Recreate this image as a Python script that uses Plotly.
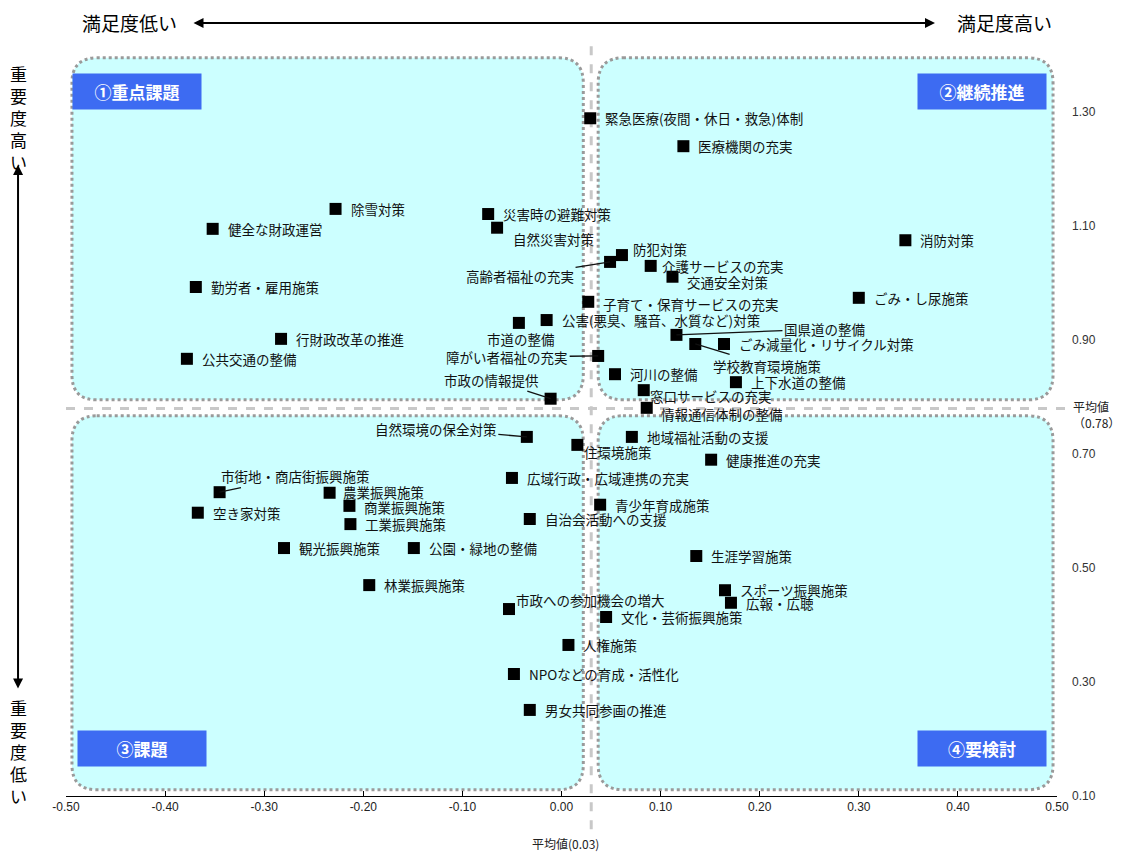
import plotly.graph_objects as go

# 施策名 / 満足度(x) / 重要度(y)
names = [
    "緊急医療(夜間・休日・救急)体制", "医療機関の充実", "除雪対策", "健全な財政運営",
    "災害時の避難対策", "自然災害対策", "防犯対策", "高齢者福祉の充実",
    "介護サービスの充実", "交通安全対策", "消防対策", "勤労者・雇用施策",
    "子育て・保育サービスの充実", "ごみ・し尿施策", "公害(悪臭、騒音、水質など)対策", "市道の整備",
    "行財政改革の推進", "国県道の整備", "学校教育環境施策", "ごみ減量化・リサイクル対策",
    "公共交通の整備", "障がい者福祉の充実", "河川の整備", "上下水道の整備",
    "窓口サービスの充実", "市政の情報提供", "情報通信体制の整備", "自然環境の保全対策",
    "住環境施策", "地域福祉活動の支援", "健康推進の充実", "市街地・商店街振興施策",
    "広域行政・広域連携の充実", "農業振興施策", "商業振興施策", "空き家対策",
    "青少年育成施策", "自治会活動への支援", "工業振興施策", "観光振興施策",
    "公園・緑地の整備", "生涯学習施策", "林業振興施策", "スポーツ振興施策",
    "広報・広聴", "市政への参加機会の増大", "文化・芸術振興施策", "人権施策",
    "NPOなどの育成・活性化", "男女共同参画の推進",
]
satisfaction = [
    0.029, 0.123, -0.228, -0.352,
    -0.074, -0.065, 0.061, 0.049,
    0.090, 0.112, 0.347, -0.369,
    0.027, 0.300, -0.015, -0.043,
    -0.283, 0.116, 0.135, 0.164,
    -0.378, 0.037, 0.054, 0.176,
    0.083, -0.011, 0.086, -0.035,
    0.016, 0.071, 0.151, -0.345,
    -0.050, -0.234, -0.214, -0.367,
    0.039, -0.032, -0.213, -0.280,
    -0.149, 0.136, -0.194, 0.165,
    0.171, -0.053, 0.045, 0.007,
    -0.048, -0.032,
]
importance = [
    1.289, 1.240, 1.130, 1.095,
    1.121, 1.097, 1.049, 1.037,
    1.030, 1.011, 1.075, 0.993,
    0.967, 0.974, 0.935, 0.930,
    0.902, 0.909, 0.893, 0.893,
    0.867, 0.872, 0.840, 0.826,
    0.812, 0.797, 0.781, 0.730,
    0.716, 0.730, 0.690, 0.633,
    0.658, 0.632, 0.609, 0.597,
    0.611, 0.586, 0.577, 0.535,
    0.535, 0.521, 0.470, 0.461,
    0.439, 0.428, 0.414, 0.365,
    0.314, 0.251,
]
mean_x = 0.03
mean_y = 0.78

x_tick_vals = [-0.5, -0.4, -0.3, -0.2, -0.1, 0.0, 0.1, 0.2, 0.3, 0.4, 0.5]
x_tick_text = ["-0.50", "-0.40", "-0.30", "-0.20", "-0.10", "0.00",
               "0.10", "0.20", "0.30", "0.40", "0.50"]
y_tick_vals = [0.1, 0.3, 0.5, 0.7, 0.9, 1.1, 1.3]
y_tick_text = ["0.10", "0.30", "0.50", "0.70", "0.90", "1.10", "1.30"]

quadrant_titles = ["①重点課題", "②継続推進", "③課題", "④要検討"]

# label placement (screen px; dy positive = down)
place = {
    "自然災害対策": ("side", 14, 11),
    "防犯対策": ("side", 9, -6),
    "高齢者福祉の充実": ("line", -90, 14),
    "介護サービスの充実": ("side", 9, 0),
    "交通安全対策": ("side", 13, 5),
    "子育て・保育サービスの充実": ("side", 13, 2),
    "市道の整備": ("below", 2, 16),
    "国県道の整備": ("line", 148, -6),
    "学校教育環境施策": ("line", 72, 22),
    "障がい者福祉の充実": ("line", -91, 1),
    "窓口サービスの充実": ("side", 4, 6),
    "市政の情報提供": ("line", -59, -19),
    "情報通信体制の整備": ("side", 12, 6),
    "自然環境の保全対策": ("line", -91, -8),
    "住環境施策": ("side", 5, 7),
    "市街地・商店街振興施策": ("line", 76, -16),
    "農業振興施策": ("side", 11, -1),
    "商業振興施策": ("side", 13, 1),
    "市政への参加機会の増大": ("side", 5, -9),
}

LABEL_FONT = dict(family="Noto Sans CJK JP", size=13.5, color="#111111")
BIG_FONT = dict(family="Noto Sans CJK JP", size=19, color="black")

fig = go.Figure()

# rounded quadrant panels
def rounded(x0, x1, y0, y1, rx=0.025, ry=0.044):
    return (f"M {x0+rx},{y1} L {x1-rx},{y1} Q {x1},{y1} {x1},{y1-ry} "
            f"L {x1},{y0+ry} Q {x1},{y0} {x1-rx},{y0} L {x0+rx},{y0} "
            f"Q {x0},{y0} {x0},{y0+ry} L {x0},{y1-ry} Q {x0},{y1} {x0+rx},{y1} Z")

panels = [(-0.494, 0.022, 0.795, 1.395), (0.037, 0.496, 0.795, 1.395),
          (-0.494, 0.022, 0.111, 0.767), (0.037, 0.496, 0.111, 0.767)]
for p in panels:
    fig.add_shape(type="path", path=rounded(*p), xref="x", yref="y",
                  fillcolor="#ccffff", line=dict(color="#9a9a9a", width=3, dash="dot"),
                  layer="below")

# mean lines
fig.add_shape(type="line", xref="x", yref="paper", x0=mean_x, x1=mean_x, y0=-0.045, y1=1.015,
              line=dict(color="#c8c8c8", width=3, dash="dash"), layer="below")
fig.add_shape(type="line", xref="paper", yref="y", x0=0.0, x1=1.012, y0=mean_y, y1=mean_y,
              line=dict(color="#c8c8c8", width=3, dash="dash"), layer="below")

fig.add_trace(go.Scatter(
    x=satisfaction, y=importance, mode="markers",
    marker=dict(symbol="square", size=12, color="black"),
    text=names, hoverinfo="text", showlegend=False,
))

for n, xv, yv in zip(names, satisfaction, importance):
    kind, dx, dy = place.get(n, ("side", 13, 0))
    if kind == "side":
        fig.add_annotation(x=xv, y=yv, text=n, showarrow=False, xanchor="left",
                           yanchor="middle", xshift=dx, yshift=-dy, font=LABEL_FONT)
    elif kind == "below":
        fig.add_annotation(x=xv, y=yv, text=n, showarrow=False, xanchor="center",
                           yanchor="middle", xshift=dx, yshift=-dy, font=LABEL_FONT)
    else:
        fig.add_annotation(x=xv, y=yv, text=n, showarrow=True, ax=dx, ay=dy,
                           arrowhead=0, arrowwidth=1.3, arrowcolor="#111111",
                           font=LABEL_FONT)

# quadrant title boxes
qpos = [(0.0061, 0.9757, "left"), (0.9899, 0.9757, "right"),
        (0.0111, 0.0891, "left"), (0.9899, 0.0891, "right")]
for t, (px, py, anc) in zip(quadrant_titles, qpos):
    fig.add_annotation(xref="paper", yref="paper", x=px, y=py, xanchor=anc, yanchor="top",
                       text=f"<b>{t}</b>", showarrow=False, bgcolor="#3d6bf2",
                       width=128, height=35, borderpad=0,
                       font=dict(family="Noto Sans CJK JP", size=17, color="white"))

# horizontal satisfaction arrow
fig.add_annotation(xref="paper", yref="paper", x=0.8769, y=1.0432, ax=-743, ay=0,
                   text="", showarrow=True, arrowside="end+start", arrowhead=2,
                   arrowsize=1, arrowwidth=2, arrowcolor="black")
fig.add_annotation(xref="paper", yref="paper", x=0.0645, y=1.0432, xanchor="center",
                   yanchor="middle", text="満足度低い", showarrow=False, font=BIG_FONT)
fig.add_annotation(xref="paper", yref="paper", x=0.9475, y=1.0432, xanchor="center",
                   yanchor="middle", text="満足度高い", showarrow=False, font=BIG_FONT)

# vertical importance arrow
fig.add_annotation(xref="paper", yref="paper", x=-0.0484, y=0.8516, ax=0, ay=525,
                   text="", showarrow=True, arrowside="end+start", arrowhead=2,
                   arrowsize=1, arrowwidth=2, arrowcolor="black")
VFONT = dict(family="Noto Sans CJK JP", size=17, color="black")
fig.add_annotation(xref="paper", yref="paper", x=-0.0484, y=0.9163, xanchor="center",
                   yanchor="middle", text="重<br>要<br>度<br>高<br>い", showarrow=False,
                   font=VFONT)
fig.add_annotation(xref="paper", yref="paper", x=-0.0484, y=0.0594, xanchor="center",
                   yanchor="middle", text="重<br>要<br>度<br>低<br>い", showarrow=False,
                   font=VFONT)

# mean value labels
fig.add_annotation(xref="paper", yref="y", x=1.014, y=mean_y, yshift=-6, xanchor="left",
                   yanchor="middle", text="平均値<br>（0.78）", showarrow=False, align="left",
                   font=dict(family="Noto Sans CJK JP", size=12, color="#222222"))
fig.add_annotation(xref="x", yref="paper", x=0.004, y=-0.0635, xanchor="center",
                   yanchor="middle", text="平均値(0.03)", showarrow=False,
                   font=dict(family="Noto Sans CJK JP", size=12, color="#222222"))

fig.update_layout(
    width=1121, height=854,
    margin=dict(l=66, r=64, t=55, b=58),
    plot_bgcolor="white", paper_bgcolor="white",
    xaxis=dict(range=[-0.5, 0.5], tickvals=x_tick_vals, ticktext=x_tick_text,
               showgrid=False, zeroline=False, showline=True, linecolor="black",
               linewidth=1, ticks="inside", ticklen=5, tickcolor="black",
               tickfont=dict(family="Liberation Sans Narrow, Arial Narrow, sans-serif",
                             size=12, color="#222222")),
    yaxis=dict(range=[0.1, 1.4], tickvals=y_tick_vals, ticktext=y_tick_text,
               side="right", showgrid=False, zeroline=False, showline=False,
               ticks="", ticklabelstandoff=14,
               tickfont=dict(family="Liberation Sans, Arial, sans-serif",
                             size=12, color="#333333")),
)

fig.write_html("out.html", config={"displayModeBar": False},
               post_script="document.body.style.margin='0';")
